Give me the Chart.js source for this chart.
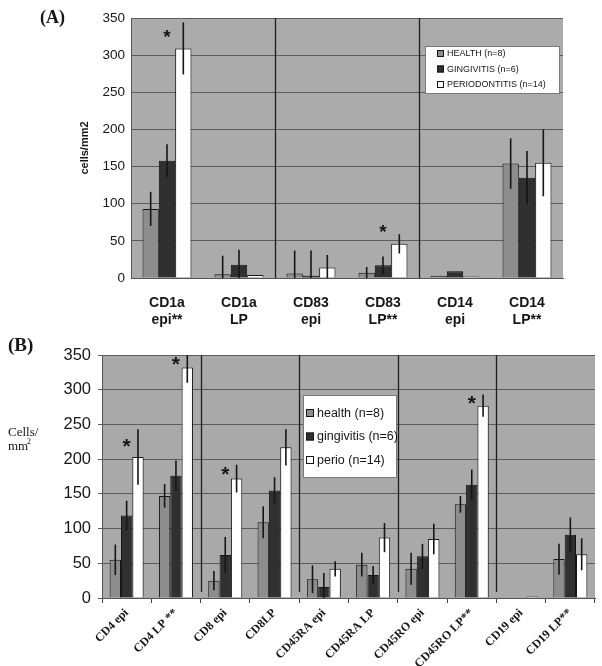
<!DOCTYPE html>
<html>
<head>
<meta charset="utf-8">
<script src="https://cdn.jsdelivr.net/npm/chart.js@4/dist/chart.umd.min.js"></script>
<style>
  html, body { margin: 0; padding: 0; background: #fff; }
  #wrap { position: relative; width: 602px; height: 666px; }
  canvas { position: absolute; left: 0; }
  #chartA { top: 0; }
  #chartB { top: 330px; }
</style>
</head>
<body>
<div id="wrap">
  <canvas id="chartA" width="602" height="330"></canvas>
  <canvas id="chartB" width="602" height="336"></canvas>
</div>
<script>
// ---- Panel A data ----
const catsA = [['CD1a', 'epi**'], ['CD1a', 'LP'], ['CD83', 'epi'], ['CD83', 'LP**'], ['CD14', 'epi'], ['CD14', 'LP**']];
const healthA = [93, 5, 6, 7, 3, 154];
const gingA = [158, 18, 3, 17, 9, 135];
const perioA = [309, 4, 14, 46, 2, 155];
const healthErrA = [23, 25, 31, 8, 0, 34];
const gingErrA = [22, 20, 34, 12, 0, 36];
const perioErrA = [35, 0, 17, 13, 0, 45];
const sigA = [1, 0, 0, 1, 0, 0];
const legendA = ['HEALTH (n=8)', 'GINGIVITIS (n=6)', 'PERIODONTITIS (n=14)'];

// ---- Panel B data ----
const catsB = ['CD4 epi', 'CD4 LP **', 'CD8 epi', 'CD8LP', 'CD45RA epi', 'CD45RA LP', 'CD45RO epi', 'CD45RO LP**', 'CD19 epi', 'CD19 LP**'];
const healthB = [55, 147, 25, 109, 27, 48, 42, 135, 0, 56];
const gingB = [119, 176, 62, 155, 16, 33, 60, 163, 0, 91];
const perioB = [203, 332, 172, 217, 42, 87, 85, 277, 2, 63];
const healthErrB = [22, 17, 14, 23, 20, 17, 23, 12, 0, 22];
const gingErrB = [21, 22, 26, 19, 20, 13, 18, 22, 0, 25];
const perioErrB = [40, 22, 20, 26, 11, 21, 22, 16, 0, 23];
const sigB = [1, 1, 1, 0, 0, 0, 0, 1, 0, 0];
const legendB = ['health (n=8)', 'gingivitis (n=6)', 'perio (n=14)'];

const yTicks = [0, 50, 100, 150, 200, 250, 300, 350];

const COL_H = '#8d8d8d', COL_G = '#303030', COL_P = '#ffffff';
const INK = '#161616';

function makeSets(labels, h, g, p, catPct) {
  const common = { borderColor: INK, borderWidth: 1, categoryPercentage: catPct, barPercentage: 1.0 };
  return [
    Object.assign({ label: labels[0], data: h, backgroundColor: COL_H }, common),
    Object.assign({ label: labels[1], data: g, backgroundColor: COL_G }, common),
    Object.assign({ label: labels[2], data: p, backgroundColor: COL_P }, common)
  ];
}

// decorations: plot background, error bars, separators, asterisks, legend, labels
function deco(o) {
  return {
    id: 'deco',
    beforeDraw(chart) {
      const a = chart.chartArea, ctx = chart.ctx;
      ctx.save();
      ctx.fillStyle = o.bg;
      ctx.fillRect(a.left, a.top, a.right - a.left, a.bottom - a.top);
      ctx.restore();
    },
    afterDatasetsDraw(chart) {
      const a = chart.chartArea, ctx = chart.ctx;
      const y = chart.scales.y, x = chart.scales.x;
      ctx.save();
      ctx.beginPath();
      ctx.rect(a.left, a.top, a.right - a.left, a.bottom - a.top);
      ctx.clip();
      // error bars
      ctx.strokeStyle = INK;
      ctx.lineWidth = 1.6;
      o.errs.forEach((errs, i) => {
        const meta = chart.getDatasetMeta(i);
        const vals = chart.data.datasets[i].data;
        errs.forEach((e, j) => {
          if (!e) return;
          const bar = meta.data[j];
          ctx.beginPath();
          ctx.moveTo(bar.x, y.getPixelForValue(vals[j] + e));
          ctx.lineTo(bar.x, y.getPixelForValue(Math.max(vals[j] - e, -10)));
          ctx.stroke();
        });
      });
      ctx.restore();
      // separators between groups
      ctx.save();
      ctx.strokeStyle = '#1e1e1e';
      ctx.lineWidth = 1.3;
      o.seps.forEach(i => {
        const px = Math.round((x.getPixelForValue(i) + x.getPixelForValue(i + 1)) / 2) + 0.5;
        ctx.beginPath();
        ctx.moveTo(px, a.top);
        ctx.lineTo(px, a.bottom - o.sepGap);
        ctx.stroke();
      });
      ctx.restore();
      // significance asterisks over perio bars
      ctx.save();
      ctx.fillStyle = INK;
      ctx.font = o.starFont;
      ctx.textAlign = 'center';
      ctx.textBaseline = 'middle';
      const pm = chart.getDatasetMeta(2);
      const pv = chart.data.datasets[2].data;
      o.sig.forEach((s, j) => {
        if (!s) return;
        const bar = pm.data[j];
        const top = y.getPixelForValue(pv[j]);
        const etop = Math.max(y.getPixelForValue(pv[j] + o.errs[2][j]), a.top);
        const sy = o.starMode === 'bar' ? top - 15 : (top + etop) / 2;
        ctx.fillText('*', bar.x - bar.width, sy + o.starDy);
      });
      ctx.restore();
    },
    afterDraw(chart) {
      const ctx = chart.ctx, L = o.legend;
      ctx.save();
      // legend box
      ctx.fillStyle = '#ffffff';
      ctx.fillRect(L.x, L.y, L.w, L.h);
      ctx.strokeStyle = '#7a7a7a';
      ctx.lineWidth = 1;
      ctx.strokeRect(L.x + 0.5, L.y + 0.5, L.w, L.h);
      ctx.font = L.font;
      ctx.textBaseline = 'middle';
      ctx.textAlign = 'left';
      chart.data.datasets.forEach((ds, i) => {
        const ry = L.y + L.row0 + i * L.rowH;
        ctx.fillStyle = ds.backgroundColor;
        ctx.fillRect(L.sx, ry - L.sw / 2, L.sw, L.sw);
        ctx.strokeStyle = INK;
        ctx.strokeRect(L.sx + 0.5, ry - L.sw / 2 + 0.5, L.sw - 1, L.sw - 1);
        ctx.fillStyle = INK;
        ctx.fillText(ds.label, L.sx + L.sw + 3, ry + 0.5);
      });
      // free texts
      o.texts.forEach(t => {
        ctx.font = t.font;
        ctx.fillStyle = INK;
        ctx.textAlign = 'left';
        ctx.textBaseline = 'alphabetic';
        ctx.fillText(t.s, t.x, t.y);
      });
      ctx.restore();
    }
  };
}

// ---------- Panel A ----------
new Chart(document.getElementById('chartA'), {
  type: 'bar',
  data: { labels: catsA, datasets: makeSets(legendA, healthA, gingA, perioA, 0.68) },
  options: {
    responsive: false,
    animation: false,
    layout: { padding: { left: 70, right: 39, top: 18, bottom: 2 } },
    plugins: { legend: { display: false }, tooltip: { enabled: false } },
    scales: {
      x: {
        afterFit: s => { s.height = 50; },
        grid: { display: false },
        border: { display: true, color: '#555' },
        ticks: { color: INK, font: { family: 'Arial, Liberation Sans', size: 14, weight: 'bold' }, padding: 9, maxRotation: 0, autoSkip: false }
      },
      y: {
        min: 0, max: 350,
        afterFit: s => { s.width = 61; },
        afterBuildTicks: s => { s.ticks = yTicks.map(v => ({ value: v })); },
        grid: { color: '#5c5c5c', lineWidth: 1, drawTicks: false },
        border: { display: true, color: '#555' },
        ticks: { color: INK, font: { family: 'Arial, Liberation Sans', size: 13.5 }, padding: 6 },
        title: { display: true, text: 'cells/mm2', color: INK, font: { family: 'Arial, Liberation Sans', size: 11, weight: 'bold' }, padding: { top: 8, bottom: 0 } }
      }
    }
  },
  plugins: [deco({
    bg: '#ababab',
    errs: [healthErrA, gingErrA, perioErrA],
    sig: sigA,
    seps: [1, 3],
    sepGap: 0,
    starFont: 'bold 19px Arial, Liberation Sans',
    starMode: 'bar',
    starDy: 4,
    legend: { x: 425, y: 46, w: 134, h: 47, row0: 7.5, rowH: 15.5, sx: 437, sw: 7, font: '9px Arial, Liberation Sans' },
    texts: [{ s: '(A)', x: 40, y: 23, font: 'bold 18px "Liberation Serif", "DejaVu Serif", serif' }]
  })]
});

// ---------- Panel B ----------
new Chart(document.getElementById('chartB'), {
  type: 'bar',
  data: { labels: catsB, datasets: makeSets(legendB, healthB, gingB, perioB, 0.69) },
  options: {
    responsive: false,
    animation: false,
    layout: { padding: { left: 40, right: 7, top: 25, bottom: 0 } },
    plugins: { legend: { display: false }, tooltip: { enabled: false } },
    scales: {
      x: {
        afterFit: s => { s.height = 68; },
        grid: { offset: true, drawOnChartArea: false, drawTicks: true, tickLength: 5, color: '#444' },
        border: { display: true, color: '#555' },
        ticks: { color: INK, font: { family: '"Liberation Serif", serif', size: 12, weight: 'bold' }, padding: 3, minRotation: 45, maxRotation: 45, autoSkip: false }
      },
      y: {
        min: 0, max: 350,
        afterFit: s => { s.width = 62; },
        afterBuildTicks: s => { s.ticks = yTicks.map(v => ({ value: v })); },
        grid: { color: '#5c5c5c', lineWidth: 1, drawTicks: true, tickLength: 4 },
        border: { display: true, color: '#555' },
        ticks: { color: INK, font: { family: 'Arial, Liberation Sans', size: 16.5 }, padding: 7 }
      }
    }
  },
  plugins: [deco({
    bg: '#a9a9a9',
    errs: [healthErrB, gingErrB, perioErrB],
    sig: sigB,
    seps: [1, 3, 5, 7],
    sepGap: 6,
    starFont: 'bold 21px Arial, Liberation Sans',
    starMode: 'mid',
    starDy: 4,
    legend: { x: 303, y: 65, w: 93, h: 82, row0: 18, rowH: 23.5, sx: 306, sw: 8, font: '12.5px Arial, Liberation Sans' },
    texts: [
      { s: '(B)', x: 8, y: 21, font: 'bold 19px "Liberation Serif", "DejaVu Serif", serif' },
      { s: 'Cells/', x: 8, y: 106, font: '13px "Liberation Serif", serif' },
      { s: 'mm', x: 8, y: 120, font: '13px "Liberation Serif", serif' },
      { s: '2', x: 27, y: 114, font: '8px "Liberation Serif", serif' }
    ]
  })]
});
</script>
</body>
</html>
